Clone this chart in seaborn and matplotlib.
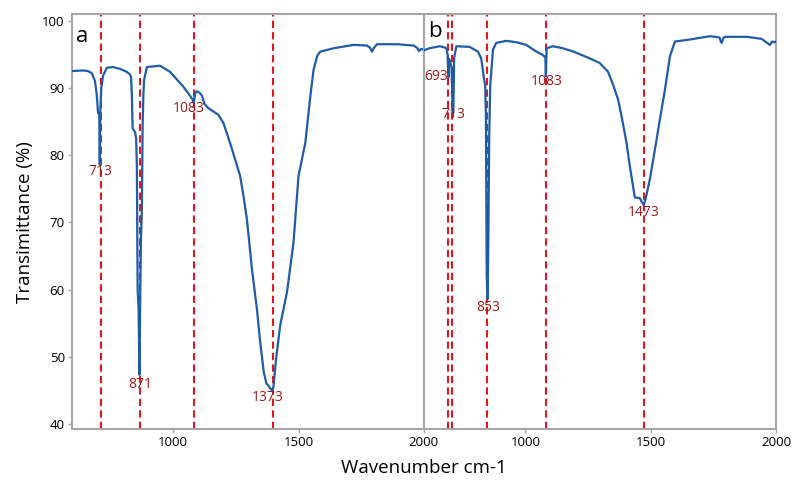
import matplotlib
matplotlib.use("Agg")
import pandas as pd
import matplotlib.pyplot as plt
import seaborn as sns

# spectrum a
a_wn = [595, 640, 660, 675, 688, 695, 700, 705, 707, 709, 713, 720, 735, 760, 790, 814,
        828, 832, 835, 838, 848, 852, 855, 858, 862, 865, 868, 871, 875, 878, 881, 884, 895,
        947, 987, 1040, 1060, 1077, 1082, 1088, 1094, 1105, 1114, 1125, 1140, 1180, 1200,
        1227, 1250, 1267, 1280, 1294, 1314, 1334, 1347, 1361, 1372, 1380, 1387, 1395, 1400,
        1410, 1427, 1454, 1480, 1500, 1527, 1547, 1560, 1575, 1587, 1640, 1720, 1773, 1785,
        1793, 1800, 1813, 1893, 1960, 1975, 1980, 1990, 2000]
a_tr = [92.5, 92.6, 92.5, 92.2, 91.0, 89.0, 86.3, 86.0, 78.6, 86.5, 90.0, 91.8, 93.0, 93.1, 92.8, 92.4,
        92.0, 91.5, 89.0, 84.0, 83.4, 82.5, 78.4, 60.0, 57.0, 47.3, 58.0, 67.0, 72.0, 84.3, 89.0, 91.2, 93.1,
        93.3, 92.4, 90.2, 89.2, 88.3, 87.8, 89.2, 89.5, 89.3, 88.9, 87.6, 87.0, 86.0, 84.8,
        81.8, 79.0, 76.9, 74.0, 70.5, 63.1, 57.1, 52.2, 47.8, 46.0, 45.7, 45.3, 45.0, 45.5,
        49.5, 54.7, 59.6, 67.0, 76.9, 81.8, 88.7, 92.7, 94.8, 95.4, 95.9, 96.4, 96.3, 96.0,
        95.4, 95.9, 96.5, 96.5, 96.3, 95.9, 95.5, 95.8, 95.7]

# spectrum b
b_wn = [595, 618, 658, 680, 686, 690, 693, 696, 700, 706, 710, 713, 716, 725, 778, 811, 824,
        834, 840, 843, 846, 850, 853, 856, 860, 871, 884, 924, 964, 1004, 1044, 1070, 1080,
        1082, 1085, 1110, 1150, 1192, 1257, 1297, 1330, 1350, 1370, 1384, 1404, 1417, 1437,
        1457, 1465, 1473, 1480, 1497, 1517, 1537, 1557, 1577, 1597, 1657, 1737, 1775, 1780,
        1784, 1790, 1797, 1883, 1943, 1976, 1985, 1996, 2000]
b_tr = [95.6, 95.9, 96.2, 96.0, 95.8, 94.9, 91.6, 94.3, 93.8, 93.0, 86.3, 86.3, 94.5, 96.2, 96.1, 95.4, 94.4,
        91.7, 90.3, 85.3, 62.1, 58.6, 69.5, 82.8, 90.3, 95.7, 96.7, 97.0, 96.8, 96.4, 95.4, 94.9, 94.5,
        91.7, 95.9, 96.2, 95.9, 95.4, 94.4, 93.7, 92.4, 90.5, 88.3, 85.8, 81.8, 78.4, 73.7,
        73.6, 73.0, 72.6, 73.5, 76.4, 80.8, 85.3, 89.7, 94.7, 96.9, 97.2, 97.7, 97.5, 96.9,
        96.7, 97.4, 97.6, 97.6, 97.3, 96.4, 96.9, 96.8, 96.9]

a_lines = [710, 867, 1081, 1397]
a_names = ["713", "871", "1083", "1373"]
b_lines = [693, 709, 848, 1083, 1473]
b_names = ["693", "713", "853", "1083", "1473"]

sns.set_theme(style="white")
plt.rcParams['font.family'] = ['Open Sans', 'DejaVu Sans']
plt.rcParams['text.color'] = 'black'

blue = '#1f5ca8'
dark_red = '#9e1b1b'
grey = '#a6a6a6'

fig, axes = plt.subplots(1, 2, figsize=(7.95, 4.82), dpi=100, sharey=True)
fig.subplots_adjust(left=0.0902, right=0.976, bottom=0.1093, top=0.971, wspace=0)

df_a = pd.DataFrame({'wn': a_wn, 'tr': a_tr})
df_b = pd.DataFrame({'wn': b_wn, 'tr': b_tr})

panels = [
    (axes[0], df_a, a_lines, a_names, 'a',
     [(708, 77.6), (868, 45.8), (1061, 87.0), (1376, 44.0)], (637, 97.7)),
    (axes[1], df_b, b_lines, b_names, 'b',
     [(645, 91.7), (711, 86.0), (851, 57.4), (1084, 91.0), (1473, 71.5)], (641, 98.4)),
]

for ax, df, lines, names, letter, label_pos, letter_pos in panels:
    for x in lines:
        ax.axvline(x, color='#e3161b', lw=1.5, ls=(0, (3.5, 2)), zorder=1)
    sns.lineplot(data=df, x='wn', y='tr', ax=ax, color=blue, lw=1.6, zorder=3)
    for name, (tx, ty) in zip(names, label_pos):
        ax.text(tx, ty, name, color=dark_red, fontsize=10, ha='center', va='center', zorder=4)
    ax.text(letter_pos[0], letter_pos[1], letter, fontsize=16, ha='center', va='center',
            color='black')
    ax.set_xlim(595, 2000)
    ax.set_ylim(39.2, 101)
    ax.set_xticks([1000, 1500, 2000])
    ax.set_xlabel('')
    ax.set_ylabel('')
    for sp in ax.spines.values():
        sp.set_color(grey)
        sp.set_linewidth(1.5)
    ax.tick_params(axis='both', which='both', direction='out', length=3, width=1,
                   color=grey, labelcolor='black', labelsize=9.5, pad=2,
                   bottom=True, left=True)

axes[0].set_yticks([40, 50, 60, 70, 80, 90, 100])
axes[1].tick_params(axis='y', left=False, labelleft=False)

axes[0].set_ylabel('Transimittance (%)', fontsize=13.5, labelpad=6, color='black')
fig.text(0.533, 0.03, 'Wavenumber cm-1', fontsize=13.5, ha='center', va='center',
         color='black')

fig.savefig('out.png', dpi=100)
